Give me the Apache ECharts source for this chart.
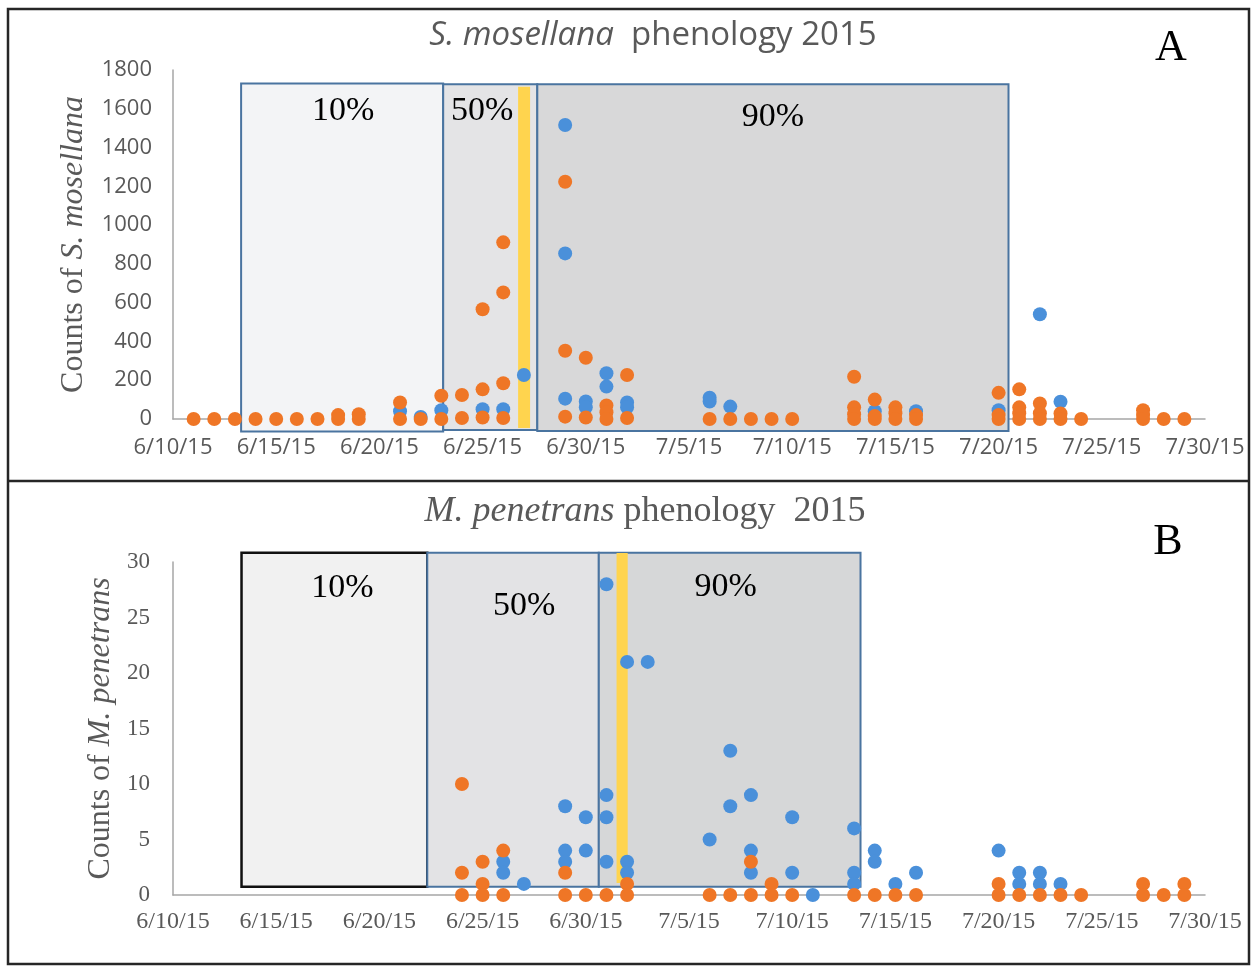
<!DOCTYPE html>
<html>
<head>
<meta charset="utf-8">
<script src="https://cdn.jsdelivr.net/npm/echarts@6/dist/echarts.min.js"></script>
<style>
  html, body { margin: 0; padding: 0; background: #fff; }
  #chart { width: 1256px; height: 970px; }
</style>
</head>
<body>
<div id="chart"></div>
<script>
// Tick labels along the date axis (every 5 days from 6/10/15)
const tickLabels = ['6/10/15', '6/15/15', '6/20/15', '6/25/15', '6/30/15', '7/5/15',
                    '7/10/15', '7/15/15', '7/20/15', '7/25/15', '7/30/15'];

// S. mosellana counts per sampling date (several samples per date)
const moselBlue = [
  ['6/21/15', [40]], ['6/22/15', [10]], ['6/23/15', [45]], ['6/25/15', [50]],
  ['6/26/15', [50]], ['6/27/15', [227]], ['6/29/15', [1516, 854, 105]],
  ['6/30/15', [90, 60]], ['7/1/15', [236, 167]], ['7/2/15', [85, 60]],
  ['7/6/15', [110, 90]], ['7/7/15', [64]], ['7/14/15', [40]], ['7/16/15', [40]],
  ['7/20/15', [45]], ['7/22/15', [540]], ['7/23/15', [89]]
];
const moselOrange = [
  ['6/11/15', [0]], ['6/12/15', [0]], ['6/13/15', [0]], ['6/14/15', [0]],
  ['6/15/15', [0]], ['6/16/15', [0]], ['6/17/15', [0]], ['6/18/15', [20, 0]],
  ['6/19/15', [25, 0]], ['6/21/15', [85, 0]], ['6/22/15', [0]], ['6/23/15', [120, 0]],
  ['6/24/15', [124, 5]], ['6/25/15', [566, 153, 8]], ['6/26/15', [911, 653, 184, 5]],
  ['6/29/15', [1224, 352, 12]], ['6/30/15', [316, 8]], ['7/1/15', [70, 35, 0]],
  ['7/2/15', [227, 5]], ['7/6/15', [0]], ['7/7/15', [0]], ['7/8/15', [0]],
  ['7/9/15', [0]], ['7/10/15', [0]], ['7/13/15', [218, 60, 25, 0]],
  ['7/14/15', [100, 15, 0]], ['7/15/15', [60, 30, 0]], ['7/16/15', [20, 0]],
  ['7/20/15', [135, 20, 0]], ['7/21/15', [153, 60, 30, 0]], ['7/22/15', [80, 30, 0]],
  ['7/23/15', [28, 0]], ['7/24/15', [0]], ['7/27/15', [45, 20, 0]],
  ['7/28/15', [0]], ['7/29/15', [0]]
];

// M. penetrans counts per sampling date
const penBlue = [
  ['6/26/15', [3, 2]], ['6/27/15', [1]], ['6/29/15', [8, 4, 3]], ['6/30/15', [7, 4]],
  ['7/1/15', [28, 9, 7, 3]], ['7/2/15', [21, 3, 2]], ['7/3/15', [21]], ['7/6/15', [5]],
  ['7/7/15', [13, 8]], ['7/8/15', [9, 4, 2]], ['7/10/15', [7, 2]], ['7/11/15', [0]],
  ['7/13/15', [6, 2, 1]], ['7/14/15', [4, 3]], ['7/15/15', [1]], ['7/16/15', [2]],
  ['7/20/15', [4]], ['7/21/15', [2, 1]], ['7/22/15', [2, 1]], ['7/23/15', [1]]
];
const penOrange = [
  ['6/24/15', [10, 2, 0]], ['6/25/15', [3, 1, 0]], ['6/26/15', [4, 0]], ['6/29/15', [2, 0]],
  ['6/30/15', [0]], ['7/1/15', [0]], ['7/2/15', [1, 0]], ['7/6/15', [0]], ['7/7/15', [0]],
  ['7/8/15', [3, 0]], ['7/9/15', [1, 0]], ['7/10/15', [0]], ['7/13/15', [0]],
  ['7/14/15', [0]], ['7/15/15', [0]], ['7/16/15', [0]], ['7/20/15', [1, 0]],
  ['7/21/15', [0]], ['7/22/15', [0]], ['7/23/15', [0]], ['7/24/15', [0]],
  ['7/27/15', [1, 0]], ['7/28/15', [0]], ['7/29/15', [1, 0]]
];

// Cumulative emergence windows: [label, start day, end day, low, high] (days after 6/10/15)
const moselPhases = [
  ['10%', 3.30, 13.09, -65, 1730],
  ['50%', 13.09, 17.65, -57, 1727],
  ['90%', 17.65, 40.48, -62, 1727],
  ['', 16.72, 17.30, -46, 1714]
];
const penPhases = [
  ['10%', 3.32, 12.32, 0.75, 30.84],
  ['50%', 12.32, 20.63, 0.75, 30.84],
  ['90%', 20.63, 33.31, 0.75, 30.84],
  ['', 21.49, 22.03, 1.08, 30.80]
];

// Box styling (fill, stroke, label offset) for each window
const moselBoxStyle = [
  { fill: '#F3F4F6', stroke: '#4A74A0', lw: 2, dx: 1, dy: 28 },
  { fill: '#E4E4E6', stroke: '#4A74A0', lw: 2, dx: -8, dy: 27 },
  { fill: '#D8D8D9', stroke: '#4A74A0', lw: 2, dx: 0, dy: 33 },
  { fill: '#FFD44E', stroke: null, lw: 0 }
];
const penBoxStyle = [
  { fill: '#F1F1F1', stroke: '#111111', lw: 2.5, dx: 8, dy: 35 },
  { fill: '#E3E3E5', stroke: '#4A74A0', lw: 2, dx: 11, dy: 53 },
  { fill: '#D6D7D8', stroke: '#4A74A0', lw: 2, dx: -4, dy: 34 },
  { fill: '#FFD44E', stroke: null, lw: 0 }
];

const BLUE = '#4A90DA';
const ORANGE = '#EF7626';
const GRAY = '#595959';
const SERIF = '"Liberation Serif", "Times New Roman", serif';
const SANS = '"Open Sans", "Liberation Sans", sans-serif';

function dayOf(s) {
  const [m, d, y] = s.split('/').map(Number);
  return Math.round((Date.UTC(2000 + y, m - 1, d) - Date.UTC(2015, 5, 10)) / 864e5);
}
function toPoints(list) {
  const out = [];
  list.forEach(([d, vals]) => vals.forEach(v => out.push([dayOf(d), v])));
  return out;
}

function phaseSeries(phases, styles, idx) {
  return {
    type: 'custom',
    xAxisIndex: idx, yAxisIndex: idx,
    z: 1, clip: false, silent: true,
    data: phases.map(p => [p[1], p[2], p[3], p[4]]),
    renderItem: function (params, api) {
      const i = params.dataIndex;
      const st = styles[i];
      const p0 = api.coord([api.value(0), api.value(3)]);
      const p1 = api.coord([api.value(1), api.value(2)]);
      const children = [{
        type: 'rect',
        z2: st.stroke ? 0 : 5,
        shape: { x: p0[0], y: p0[1], width: p1[0] - p0[0], height: p1[1] - p0[1] },
        style: { fill: st.fill, stroke: st.stroke || null, lineWidth: st.lw }
      }];
      if (phases[i][0]) {
        children.push({
          type: 'text',
          z2: 10,
          x: (p0[0] + p1[0]) / 2 + st.dx,
          y: p0[1] + st.dy,
          style: {
            text: phases[i][0], fill: '#000', font: '34px ' + SERIF,
            align: 'center', verticalAlign: 'middle'
          }
        });
      }
      return { type: 'group', children: children };
    }
  };
}

function scatter(list, color, idx) {
  return {
    type: 'scatter', xAxisIndex: idx, yAxisIndex: idx, z: 3, clip: false,
    symbol: 'circle', symbolSize: 14,
    itemStyle: { color: color, opacity: 1 },
    data: toPoints(list)
  };
}

const axisLineStyle = { show: true, onZero: false, lineStyle: { color: '#A6A6A6', width: 1.5 } };
const plain = v => String(v);

const option = {
  animation: false,
  backgroundColor: '#ffffff',
  grid: [
    { left: 173, right: 51, top: 70, bottom: 551 },
    { left: 173, right: 51, top: 562, bottom: 75 }
  ],
  xAxis: [
    {
      gridIndex: 0, type: 'value', min: 0, max: 50, interval: 5,
      axisLine: axisLineStyle, axisTick: { show: false }, splitLine: { show: false },
      axisLabel: { formatter: v => tickLabels[v / 5], margin: 18, fontFamily: SANS, fontSize: 22, color: GRAY }
    },
    {
      gridIndex: 1, type: 'value', min: 0, max: 50, interval: 5,
      axisLine: axisLineStyle, axisTick: { show: false }, splitLine: { show: false },
      axisLabel: { formatter: v => tickLabels[v / 5], margin: 15, fontFamily: SERIF, fontSize: 24, color: GRAY }
    }
  ],
  yAxis: [
    {
      gridIndex: 0, type: 'value', min: 0, max: 1800, interval: 200,
      axisLine: axisLineStyle, axisTick: { show: false }, splitLine: { show: false },
      axisLabel: { formatter: plain, margin: 21, fontFamily: SANS, fontSize: 22, color: GRAY },
      name: '{n|Counts of }{i|S. mosellana}',
      nameLocation: 'middle', nameRotate: 90, nameGap: 83,
      nameTextStyle: {
        fontFamily: SERIF, fontSize: 32, color: GRAY,
        rich: {
          n: { fontFamily: SERIF, fontSize: 32, color: GRAY },
          i: { fontFamily: SERIF, fontSize: 32, color: GRAY, fontStyle: 'italic' }
        }
      }
    },
    {
      gridIndex: 1, type: 'value', min: 0, max: 30, interval: 5,
      axisLine: axisLineStyle, axisTick: { show: false }, splitLine: { show: false },
      axisLabel: { formatter: plain, margin: 23, fontFamily: SERIF, fontSize: 23, color: GRAY },
      name: '{n|Counts of }{i|M. penetrans}',
      nameLocation: 'middle', nameRotate: 90, nameGap: 56,
      nameTextStyle: {
        fontFamily: SERIF, fontSize: 32, color: GRAY,
        rich: {
          n: { fontFamily: SERIF, fontSize: 32, color: GRAY },
          i: { fontFamily: SERIF, fontSize: 32, color: GRAY, fontStyle: 'italic' }
        }
      }
    }
  ],
  graphic: [
    { type: 'rect', shape: { x: 8, y: 9, width: 1241, height: 955 }, style: { fill: null, stroke: '#262626', lineWidth: 2.5 }, z: 100 },
    { type: 'line', shape: { x1: 8, y1: 481, x2: 1249, y2: 481 }, style: { stroke: '#262626', lineWidth: 2.5 }, z: 100 },
    {
      type: 'text', x: 653, y: 36, z: 100,
      style: {
        text: '{i|S. mosellana}  phenology 2015', align: 'center', verticalAlign: 'middle',
        font: '33px ' + SANS, fill: GRAY,
        rich: {
          i: { fontStyle: 'italic', fontFamily: SANS, fontSize: 33, fill: GRAY }
        }
      }
    },
    {
      type: 'text', x: 645, y: 512, z: 100,
      style: {
        text: '{i|M. penetrans} phenology  2015', align: 'center', verticalAlign: 'middle',
        font: '36px ' + SERIF, fill: GRAY,
        rich: {
          i: { fontStyle: 'italic', fontFamily: SERIF, fontSize: 36, fill: GRAY }
        }
      }
    },
    { type: 'text', x: 1171, y: 48, z: 100, style: { text: 'A', align: 'center', verticalAlign: 'middle', font: '44px ' + SERIF, fill: '#000' } },
    { type: 'text', x: 1168, y: 542, z: 100, style: { text: 'B', align: 'center', verticalAlign: 'middle', font: '44px ' + SERIF, fill: '#000' } }
  ],
  series: [
    phaseSeries(moselPhases, moselBoxStyle, 0),
    scatter(moselBlue, BLUE, 0),
    scatter(moselOrange, ORANGE, 0),
    phaseSeries(penPhases, penBoxStyle, 1),
    scatter(penBlue, BLUE, 1),
    scatter(penOrange, ORANGE, 1)
  ]
};

const chart = echarts.init(document.getElementById('chart'), null, { renderer: 'canvas' });
chart.setOption(option);
</script>
</body>
</html>
